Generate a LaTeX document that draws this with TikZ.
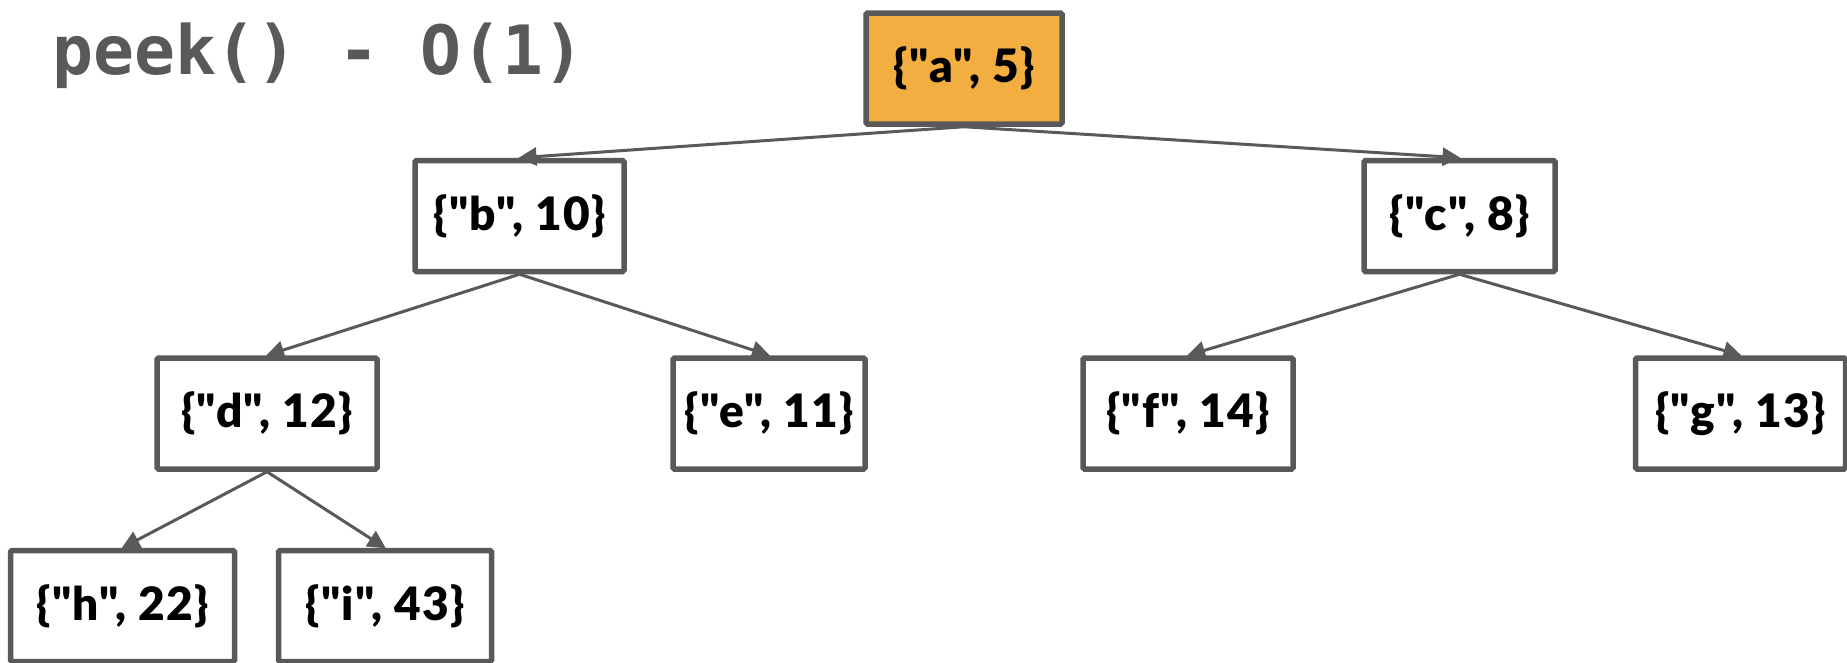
\documentclass[tikz,border=0pt]{standalone}
\usepackage{fontspec}
\setmainfont{Lato}
\newfontfamily\boxfont[LetterSpace=3]{Lato Black}
\newfontfamily\titlefont{DejaVu Sans Mono}
\newcommand\dq{\symbol{34}}
\usetikzlibrary{arrows.meta}
\definecolor{edgegray}{HTML}{595959}
\definecolor{rootfill}{HTML}{F2AE40}
\tikzset{
  heapbox/.style={draw=edgegray, line width=5.5pt, rounded corners=1.5pt, fill=white,
    minimum width=#1, minimum height=111pt, inner sep=0pt,
    font=\boxfont\fontsize{46}{52}\selectfont, text=black},
  heapbox/.default=200pt,
  edge/.style={draw=edgegray, line width=3pt, -{Triangle[length=18pt,width=18pt]}, shorten >=-1pt},
}
\begin{document}
\begin{tikzpicture}[x=1pt,y=-1pt]
\useasboundingbox (0,0) rectangle (1847,662);
\node[anchor=base west, text=edgegray, font=\titlefont\bfseries\fontsize{68}{72}\selectfont, inner sep=0pt] (title) at (52,74) {peek() - O(1)};
\node[heapbox=196pt, fill=rootfill] (a) at (964,68.5) {\{\dq a\dq, 5\}};
\node[heapbox=209pt] (b) at (519.5,216) {\{\dq b\dq, 10\}};
\node[heapbox=191pt] (c) at (1459.5,216) {\{\dq c\dq, 8\}};
\node[heapbox=220pt] (d) at (267,413.5) {\{\dq d\dq, 12\}};
\node[heapbox=192pt] (e) at (769,413.5) {\{\dq e\dq, 11\}};
\node[heapbox=210pt] (f) at (1188,413.5) {\{\dq f\dq, 14\}};
\node[heapbox=210pt] (g) at (1740.5,413.5) {\{\dq g\dq, 13\}};
\node[heapbox=224pt] (h) at (122.5,606) {\{\dq h\dq, 22\}};
\node[heapbox=213pt] (i) at (385,606) {\{\dq i\dq, 43\}};
\draw[edge] (a.south) -- (b.north);
\draw[edge] (a.south) -- (c.north);
\draw[edge] (b.south) -- (d.north);
\draw[edge] (b.south) -- (e.north);
\draw[edge] (c.south) -- (f.north);
\draw[edge] (c.south) -- (g.north);
\draw[edge] (d.south) -- (h.north);
\draw[edge] (d.south) -- (i.north);
\end{tikzpicture}
\end{document}
